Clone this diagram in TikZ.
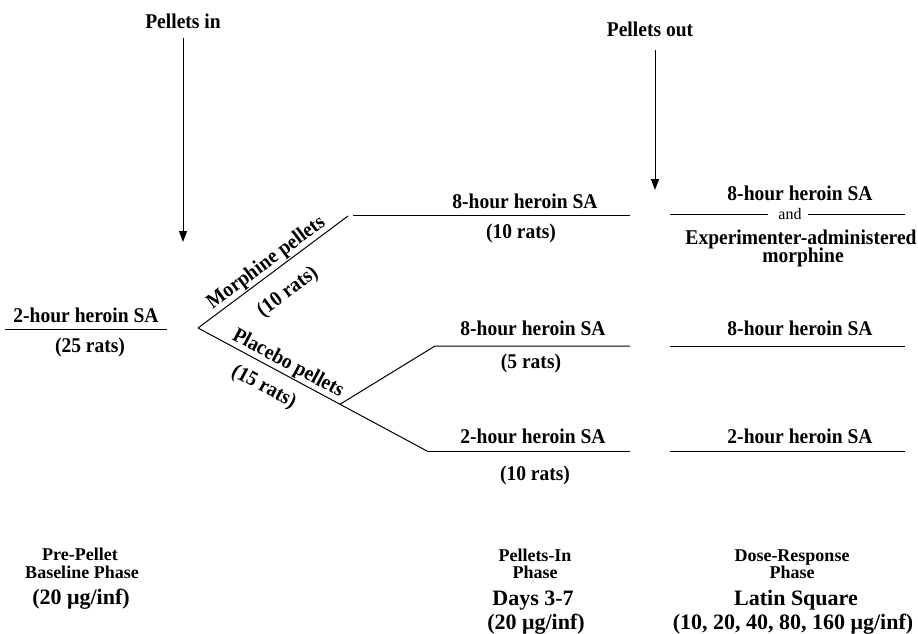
\documentclass[tikz,border=0pt]{standalone}
\usepackage{fontspec}
\setmainfont{Liberation Serif}
\newfontfamily\tallserif[FakeStretch=0.93]{Liberation Serif}
\usetikzlibrary{arrows.meta,calc}

\tikzstyle{grp}=[anchor=base,inner sep=0pt,font=\tallserif\fontsize{21}{23}\selectfont\bfseries]
\tikzstyle{phase}=[anchor=base,inner sep=0pt,font=\fontsize{18}{20}\selectfont\bfseries]
\tikzstyle{dose}=[anchor=base,inner sep=0pt,font=\fontsize{22}{24}\selectfont\bfseries]
\tikzstyle{arm}=[draw=black,line width=1pt]
\tikzstyle{pellet}=[draw=black,line width=1pt,-{Triangle[width=8pt,length=11pt]}]
\tikzstyle{tilt}=[sloped,inner sep=0pt,font=\tallserif\fontsize{21}{23}\selectfont\bfseries]

\begin{document}
\begin{tikzpicture}[x=1pt,y=-1pt]

   \useasboundingbox (0,0) rectangle (918,633);

   % Pellet arrows

   \draw (183,28) node[grp] (pin) {Pellets in};
   \draw (650,36) node[grp] (pout) {Pellets out};
   \coordinate (pintop) at (183,38);
   \coordinate (pintip) at (183,242);
   \coordinate (pouttop) at (655,50);
   \coordinate (pouttip) at (655,190);

   \draw[pellet] (pintop) -- (pintip);
   \draw[pellet] (pouttop) -- (pouttip);

   % Baseline

   \draw (86,322) node[grp] (base) {2-hour heroin SA};
   \draw (90,352) node[grp] (basen) {(25 rats)};
   \draw[arm] (5,329) coordinate(b0l) -- (167,329) coordinate(b0r);

   \coordinate (fork) at (198,328);

   % Morphine arm

   \draw[arm] (fork) -- (348,216) coordinate(mend)
      node[tilt,pos=0.5,above=1pt] (mlab) {Morphine pellets}
      node[tilt,pos=0.5,below=15pt] (mn) {(10 rats)};
   \draw[arm] (353,215) coordinate(m8l) -- (630,215) coordinate(m8r);
   \draw (525,208) node[grp] (m8) {8-hour heroin SA};
   \draw (521,238) node[grp] (m8n) {(10 rats)};

   % Placebo arms

   \draw[arm] (fork) -- (427,451) coordinate(p2l)
      node[tilt,pos=0.37,above=1pt] (plab) {Placebo pellets}
      node[tilt,pos=0.33,below=11pt] (pn) {(15 rats)};
   \draw[arm] (p2l) -- (630,451) coordinate(p2r);
   \coordinate (split) at ($(fork)!0.62!(p2l)$);
   \draw[arm] (split) -- (435,346) coordinate(p8l) -- (630,346) coordinate(p8r);

   \draw (533,335) node[grp] (p8) {8-hour heroin SA};
   \draw (531,368) node[grp] (p8n) {(5 rats)};
   \draw (533,443) node[grp] (p2) {2-hour heroin SA};
   \draw (535,480) node[grp] (p2n) {(10 rats)};

   % Dose-response column

   \draw (800,200) node[grp] (r8) {8-hour heroin SA};
   \draw (790,219) node[anchor=base,inner sep=0pt,font=\fontsize{16}{18}\selectfont] (and) {and};
   \draw (801,244) node[grp] (rexp) {Experimenter-administered};
   \draw (803,262) node[grp] (rmor) {morphine};
   \draw[arm] (670,214) coordinate(r8l) -- (768,214) coordinate(r8a);
   \draw[arm] (808,214) coordinate(r8b) -- (905,214) coordinate(r8r);

   \draw (800,335) node[grp] (rp8) {8-hour heroin SA};
   \draw[arm] (670,346) coordinate(rp8l) -- (905,346) coordinate(rp8r);
   \draw (800,443) node[grp] (rp2) {2-hour heroin SA};
   \draw[arm] (670,451) coordinate(rp2l) -- (905,451) coordinate(rp2r);

   % Phase captions

   \draw (80,560) node[phase] (ph1a) {Pre-Pellet};
   \draw (82,578) node[phase] (ph1b) {Baseline Phase};
   \draw (81,604) node[dose] (ph1c) {(20 μg/inf)};

   \draw (535,561) node[phase] (ph2a) {Pellets-In};
   \draw (535,578) node[phase] (ph2b) {Phase};
   \draw (533,605) node[dose] (ph2c) {Days 3-7};
   \draw (536,629) node[dose] (ph2d) {(20 μg/inf)};

   \draw (792,561) node[phase] (ph3a) {Dose-Response};
   \draw (792,578) node[phase] (ph3b) {Phase};
   \draw (796,605) node[dose] (ph3c) {Latin Square};
   \draw (793,629) node[dose] (ph3d) {(10, 20, 40, 80, 160 μg/inf)};

\end{tikzpicture}
\end{document}
